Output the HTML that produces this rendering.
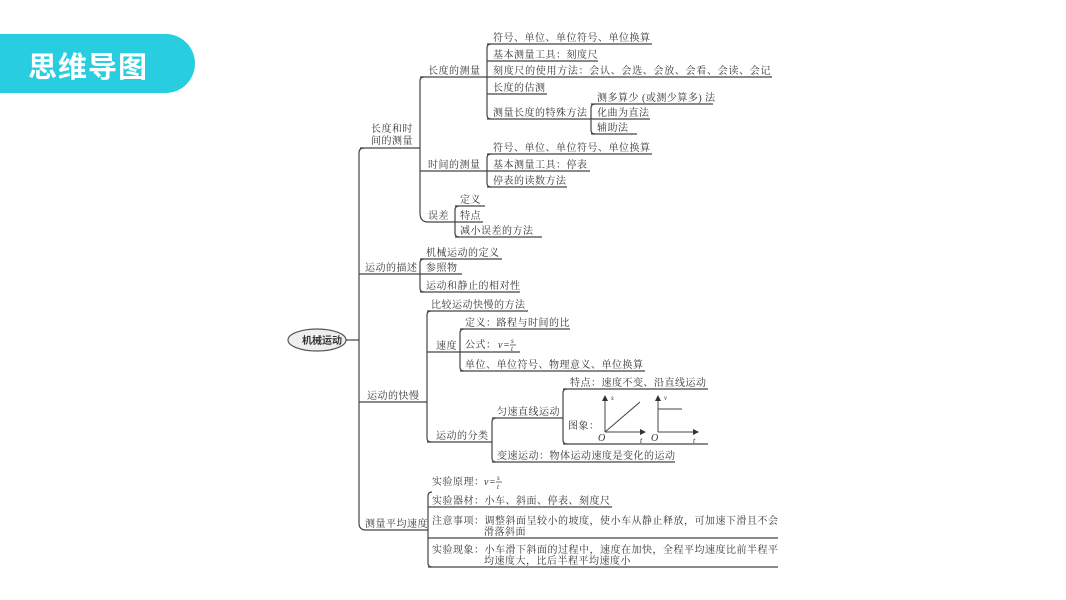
<!DOCTYPE html>
<html><head><meta charset="utf-8"><style>
html,body{margin:0;padding:0;background:#fff;width:1066px;height:600px;overflow:hidden}
.ban{position:absolute;left:0;top:34px;width:195px;height:59px;background:#29cde0;border-radius:0 30px 30px 0}
.ban span{position:absolute;left:28px;top:10px;font:bold 29px "Noto Sans CJK SC",sans-serif;color:#fff;letter-spacing:1px}
svg{position:absolute;left:0;top:0}
text{font-family:"Liberation Serif","Noto Serif CJK SC",serif;font-size:10px;fill:#333;letter-spacing:0.5px}
.l{stroke:#444;stroke-width:1.2;fill:none}
.i{font-style:italic;letter-spacing:0}
.f{font-size:7px;font-style:italic;letter-spacing:0}
</style></head><body>
<div class="ban"><span>思维导图</span></div>
<svg width="1066" height="600" viewBox="0 0 1066 600">
<defs><marker id="a" markerWidth="6" markerHeight="6" refX="5" refY="3" orient="auto"><path d="M0,0 L6,3 L0,6 Z" fill="#333"/></marker></defs>
<g class="l">
<ellipse cx="317" cy="340" rx="29" ry="11" fill="#eee" stroke="#555"/>
<line x1="346" y1="340" x2="359" y2="340"/>
<path d="M364 148 Q359 148 359 153 L359 523 Q359 530 366 530 L428 530"/>
<line x1="360" y1="148" x2="420" y2="148"/>
<line x1="359" y1="274" x2="420" y2="274"/>
<line x1="359" y1="402" x2="427" y2="402"/>
<path d="M424 77 Q420 77 420 81 L420 213 Q420 222 428 222 L455 222"/>
<line x1="420" y1="77" x2="487" y2="77"/>
<line x1="420" y1="171" x2="487" y2="171"/>
<path d="M491 44 Q487 44 487 48 L487 115 Q487 119 491 119"/>
<line x1="487" y1="44" x2="652" y2="44"/>
<line x1="487" y1="61" x2="598" y2="61"/>
<line x1="487" y1="77" x2="772" y2="77"/>
<line x1="487" y1="94" x2="547" y2="94"/>
<line x1="487" y1="119" x2="591" y2="119"/>
<path d="M595 104 Q591 104 591 108 L591 130 Q591 134 595 134"/>
<line x1="591" y1="104" x2="713" y2="104"/>
<line x1="591" y1="119" x2="650" y2="119"/>
<line x1="591" y1="134" x2="637" y2="134"/>
<path d="M491 154 Q487 154 487 158 L487 183 Q487 187 491 187"/>
<line x1="487" y1="154" x2="652" y2="154"/>
<line x1="487" y1="171" x2="590" y2="171"/>
<line x1="487" y1="187" x2="567" y2="187"/>
<path d="M459 206 Q455 206 455 210 L455 233 Q455 237 459 237"/>
<line x1="455" y1="206" x2="485" y2="206"/>
<line x1="455" y1="222" x2="483" y2="222"/>
<line x1="455" y1="237" x2="542" y2="237"/>
<path d="M424 259 Q420 259 420 263 L420 288 Q420 292 424 292"/>
<line x1="420" y1="259" x2="502" y2="259"/>
<line x1="420" y1="274" x2="462" y2="274"/>
<line x1="420" y1="292" x2="520" y2="292"/>
<path d="M431 311 Q427 311 427 315 L427 438 Q427 442 431 442"/>
<line x1="427" y1="311" x2="528" y2="311"/>
<line x1="427" y1="352" x2="460" y2="352"/>
<line x1="427" y1="442" x2="492" y2="442"/>
<path d="M464 329 Q460 329 460 333 L460 367 Q460 371 464 371"/>
<line x1="460" y1="329" x2="570" y2="329"/>
<line x1="460" y1="352" x2="520" y2="352"/>
<line x1="460" y1="371" x2="645" y2="371"/>
<path d="M496 418 Q492 418 492 422 L492 458 Q492 462 496 462"/>
<line x1="492" y1="418" x2="563" y2="418"/>
<line x1="492" y1="462" x2="675" y2="462"/>
<path d="M567 389 Q563 389 563 393 L563 440 Q563 444 567 444"/>
<line x1="563" y1="389" x2="708" y2="389"/>
<line x1="563" y1="444" x2="708" y2="444"/>
<line x1="605" y1="432" x2="605" y2="396" marker-end="url(#a)" stroke-width="1"/>
<line x1="605" y1="432" x2="645" y2="432" marker-end="url(#a)" stroke-width="1"/>
<line x1="605" y1="432" x2="640" y2="402" stroke-width="1"/>
<line x1="658" y1="432" x2="658" y2="396" marker-end="url(#a)" stroke-width="1"/>
<line x1="658" y1="432" x2="698" y2="432" marker-end="url(#a)" stroke-width="1"/>
<line x1="658" y1="409" x2="682" y2="409" stroke-width="1"/>
<path d="M432 492 Q428 492 428 496 L428 563 Q428 567 432 567"/>
<line x1="428" y1="507" x2="612" y2="507"/>
<line x1="428" y1="538" x2="778" y2="538"/>
<line x1="428" y1="567" x2="778" y2="567"/>
</g>
<g>
<text x="302" y="344" style="font-family:'Noto Sans CJK SC',sans-serif;font-weight:bold;font-size:10px;letter-spacing:0">机械运动</text>
<text x="371" y="132">长度和时</text>
<text x="371" y="144">间的测量</text>
<text x="428" y="74">长度的测量</text>
<text x="493" y="41">符号、单位、单位符号、单位换算</text>
<text x="493" y="58">基本测量工具：刻度尺</text>
<text x="493" y="74" style="letter-spacing:0.7px">刻度尺的使用方法：会认、会选、会放、会看、会读、会记</text>
<text x="493" y="91">长度的估测</text>
<text x="493" y="116">测量长度的特殊方法</text>
<text x="597" y="101">测多算少 (或测少算多) 法</text>
<text x="597" y="116">化曲为直法</text>
<text x="597" y="131">辅助法</text>
<text x="428" y="168">时间的测量</text>
<text x="493" y="151">符号、单位、单位符号、单位换算</text>
<text x="493" y="168">基本测量工具：停表</text>
<text x="493" y="184">停表的读数方法</text>
<text x="428" y="219">误差</text>
<text x="460" y="203">定义</text>
<text x="460" y="219">特点</text>
<text x="460" y="234">减小误差的方法</text>
<text x="365" y="271">运动的描述</text>
<text x="426" y="256">机械运动的定义</text>
<text x="426" y="271">参照物</text>
<text x="426" y="289">运动和静止的相对性</text>
<text x="367" y="399">运动的快慢</text>
<text x="431" y="308">比较运动快慢的方法</text>
<text x="436" y="349">速度</text>
<text x="465" y="326">定义：路程与时间的比</text>
<text x="465" y="348">公式：</text>
<text x="498" y="348" class="i">v</text>
<text x="503" y="348" class="i">=</text>
<text x="511" y="343" class="f">s</text>
<line x1="510" y1="345" x2="516" y2="345" stroke="#333" stroke-width="0.7"/>
<text x="511" y="351" class="f">t</text>
<text x="465" y="368">单位、单位符号、物理意义、单位换算</text>
<text x="436" y="439">运动的分类</text>
<text x="497" y="415">匀速直线运动</text>
<text x="570" y="386">特点：速度不变、沿直线运动</text>
<text x="568" y="429">图象：</text>
<text x="611" y="400" class="f">s</text>
<text x="598" y="441" class="i">O</text>
<text x="640" y="443" class="f" style="font-size:8px">t</text>
<text x="664" y="400" class="f">v</text>
<text x="651" y="441" class="i">O</text>
<text x="693" y="443" class="f" style="font-size:8px">t</text>
<text x="497" y="459">变速运动：物体运动速度是变化的运动</text>
<text x="365" y="527">测量平均速度</text>
<text x="432" y="485">实验原理：</text>
<text x="484" y="485" class="i">v</text>
<text x="489" y="485" class="i">=</text>
<text x="497" y="480" class="f">s</text>
<line x1="496" y1="482" x2="502" y2="482" stroke="#333" stroke-width="0.7"/>
<text x="497" y="489" class="f">t</text>
<text x="432" y="504">实验器材：小车、斜面、停表、刻度尺</text>
<text x="432" y="524">注意事项：调整斜面呈较小的坡度，使小车从静止释放，可加速下滑且不会</text>
<text x="484" y="535">滑落斜面</text>
<text x="432" y="553">实验现象：小车滑下斜面的过程中，速度在加快，全程平均速度比前半程平</text>
<text x="484" y="564">均速度大，比后半程平均速度小</text>
</g>
</svg>
</body></html>
